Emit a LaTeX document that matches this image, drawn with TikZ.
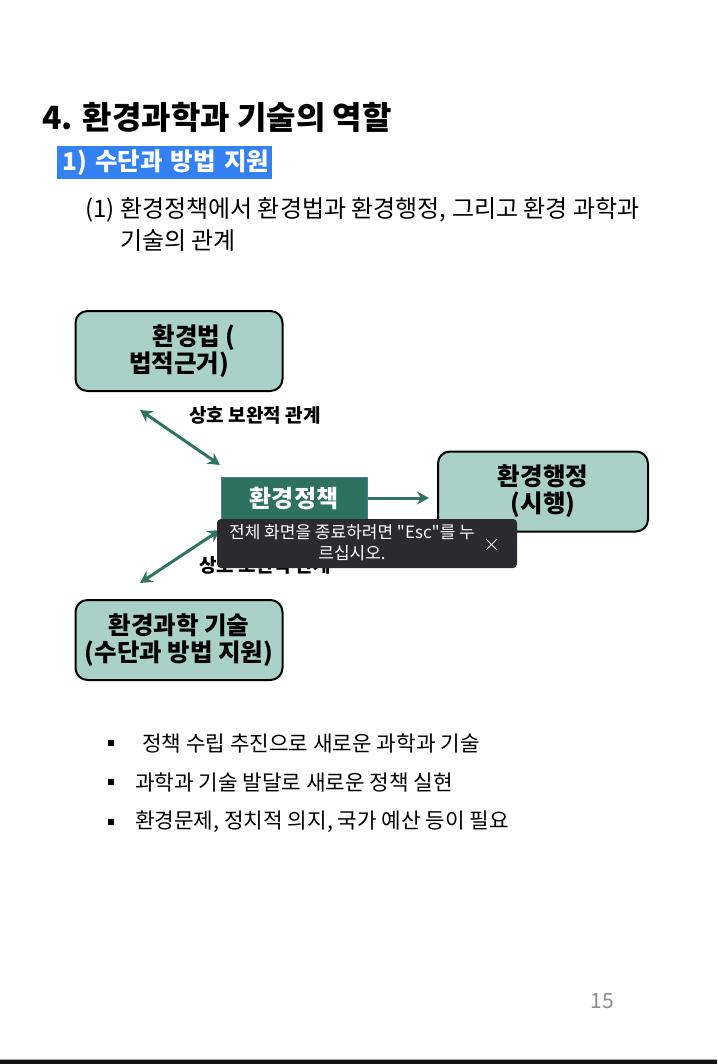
\documentclass[tikz,border=0pt]{standalone}
\usepackage{fontspec}
\setmainfont{Noto Sans CJK KR}
\newfontfamily\toastfont[Ligatures=TeXOff]{Noto Sans CJK KR}
\usetikzlibrary{positioning,arrows.meta}

\definecolor{boxfill}{HTML}{A9D1C8}
\definecolor{policyfill}{HTML}{2D7160}
\definecolor{policyline}{HTML}{4A7AA6}
\definecolor{arrowgreen}{HTML}{2F7462}
\definecolor{hlblue}{HTML}{3381F2}
\definecolor{toastbg}{HTML}{2B2B2F}
\definecolor{pagegray}{HTML}{8C8C8C}

\tikzset{
  roundbox/.style={draw=black, line width=2pt, rounded corners=12pt, fill=boxfill,
    minimum width=207pt, minimum height=80pt, align=center,
    font=\fontsize{24.5}{27}\selectfont\bfseries},
  policybox/.style={draw=policyline, line width=1pt, fill=policyfill, text=white,
    minimum width=146pt, minimum height=42pt, font=\fontsize{24}{26}\selectfont\bfseries},
  relarrow/.style={arrowgreen, line width=3pt},
  relabel/.style={font=\fontsize{19}{22}\selectfont\bfseries},
  bullet/.style={fill=black, minimum size=6pt, inner sep=0pt},
  bullettext/.style={anchor=west, inner sep=0pt, font=\fontsize{21.3}{25}\selectfont},
}

\begin{document}
\begin{tikzpicture}[x=1pt,y=-1pt,>={Stealth[length=12pt,width=13pt]}]
  \useasboundingbox (0,0) rectangle (717,1064);

  % heading
  \node[anchor=west, inner sep=0pt, font=\fontsize{32}{36}\selectfont\bfseries] (title) at (42,117) {4. 환경과학과 기술의 역할};
  \node[anchor=west, fill=hlblue, text=white, inner sep=0pt, minimum height=33pt, text width=215pt,
    font=\fontsize{24.5}{28}\selectfont\bfseries] (sub) at (57,162.5) {\hspace{5pt}1) 수단과 방법 지원};
  \node[anchor=west, inner sep=0pt, font=\fontsize{24}{28}\selectfont] (lead1) at (85,210) {(1) 환경정책에서 환경법과 환경행정, 그리고 환경 과학과};
  \node[anchor=west, inner sep=0pt, font=\fontsize{24}{28}\selectfont] (lead2) at (120,241) {기술의 관계};

  % diagram
  \node[roundbox] (law) at (179,351) {\hspace{30pt}환경법 (\\법적근거)};
  \node[policybox] (policy) at (294,498) {환경정책};
  \node[roundbox, minimum width=210pt] (admin) at (543,491.5) {환경행정\\(시행)};
  \node[roundbox] (tech) at (179,640) {환경과학 기술\\(수단과 방법 지원)};

  \coordinate (lawend) at (140,410);
  \coordinate (poltop) at (220,465);
  \coordinate (polbot) at (220,530);
  \coordinate (techend) at (140,583);

  \draw[relarrow, <->] (lawend) -- (poltop);
  \draw[relarrow, <->] (polbot) -- (techend);
  \draw[relarrow, ->, shorten >=8pt] (policy.east) -- (policy.east -| admin.west);

  \node[relabel] (rel1) at (255,415) {상호 보완적 관계};
  \node[relabel] (rel2) at (265,565) {상호 보완적 관계};

  % full-screen notice
  \node[fill=toastbg, rounded corners=4pt, minimum width=300pt, minimum height=49pt] (toast) at (367,543.5) {};
  \node[text=white, align=center, inner sep=0pt, font=\toastfont\fontsize{17}{21}\selectfont] (toasttext) at (352,543) {전체 화면을 종료하려면 "Esc"를 누\\르십시오.};
  \draw[white, line width=0.9pt] (486,539) -- (497,550) (486,550) -- (497,539);

  % bullets
  \foreach \y/\txt/\dx in {743/{정책 수립 추진으로 새로운 과학과 기술}/142,
                           782/{과학과 기술 발달로 새로운 정책 실현}/135,
                           822/{환경문제, 정치적 의지, 국가 예산 등이 필요}/135} {
    \node[bullet] (b\y) at (111,\y) {};
    \node[bullettext] (t\y) at (\dx,\y) {\txt};
  }

  % page number and bottom bar
  \node[text=pagegray, font=\fontsize{21}{24}\selectfont] (page) at (602,1001) {15};
  \fill[black!92] (0,1059) rectangle (717,1064);
  \draw[gray!70, line width=0.6pt] (0,1059) -- (717,1059);
\end{tikzpicture}
\end{document}
